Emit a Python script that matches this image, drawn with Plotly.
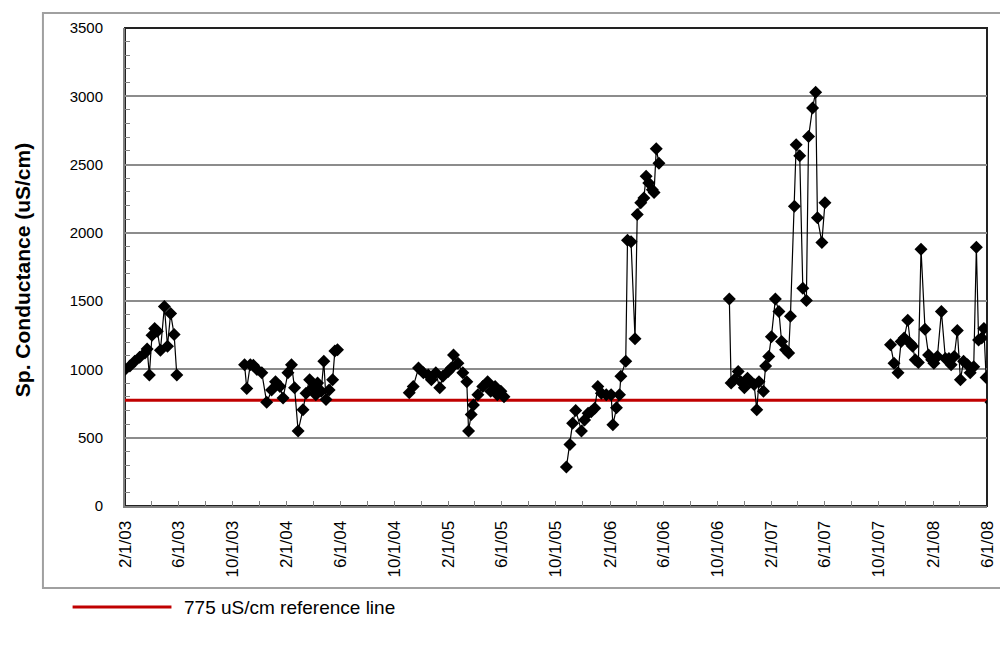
import plotly.graph_objects as go

# sampling periods (gaps between them are not connected)
d_2003 = ["2003-02-01", "2003-02-12", "2003-02-23", "2003-03-06", "2003-03-18", "2003-03-23",
          "2003-03-28", "2003-04-03", "2003-04-09", "2003-04-15", "2003-04-22", "2003-05-01",
          "2003-05-08", "2003-05-15", "2003-05-23", "2003-05-29"]
v_2003 = [1000, 1025, 1060, 1090, 1120, 1150, 960, 1250, 1300, 1280, 1140, 1460, 1170, 1410, 1255, 960]

d_2004 = ["2003-10-29", "2003-11-03", "2003-11-11", "2003-11-18", "2003-11-26", "2003-12-07",
          "2003-12-18", "2003-12-29", "2004-01-07", "2004-01-17", "2004-01-24", "2004-02-04",
          "2004-02-12", "2004-02-19", "2004-02-27", "2004-03-09", "2004-03-16", "2004-03-24",
          "2004-03-31", "2004-04-07", "2004-04-11", "2004-04-19", "2004-04-25", "2004-04-30",
          "2004-05-07", "2004-05-15", "2004-05-20", "2004-05-26"]
v_2004 = [1035, 860, 1035, 1030, 1000, 975, 760, 850, 910, 875, 790, 975, 1035, 865, 550, 705,
          825, 925, 865, 815, 900, 840, 1060, 780, 850, 925, 1135, 1145]

d_2005 = ["2004-11-04", "2004-11-13", "2004-11-25", "2004-12-06", "2004-12-17", "2004-12-24",
          "2005-01-03", "2005-01-12", "2005-01-19", "2005-01-31", "2005-02-07", "2005-02-12",
          "2005-02-22", "2005-03-05", "2005-03-14", "2005-03-18", "2005-03-24", "2005-03-29",
          "2005-04-08", "2005-04-19", "2005-04-30", "2005-05-07", "2005-05-17", "2005-05-22",
          "2005-05-30", "2005-06-06"]
v_2005 = [830, 875, 1010, 975, 960, 925, 975, 865, 950, 985, 1010, 1105, 1045, 975, 910, 550,
          670, 740, 815, 875, 910, 840, 875, 815, 840, 800]

d_2006 = ["2005-10-25", "2005-11-02", "2005-11-08", "2005-11-15", "2005-11-28", "2005-12-05",
          "2005-12-13", "2005-12-20", "2005-12-28", "2006-01-04", "2006-01-12", "2006-01-23",
          "2006-02-03", "2006-02-07", "2006-02-15", "2006-02-22", "2006-02-25", "2006-03-08",
          "2006-03-12", "2006-03-20", "2006-03-29", "2006-04-03", "2006-04-11", "2006-04-18",
          "2006-04-23", "2006-04-29", "2006-05-07", "2006-05-11", "2006-05-16", "2006-05-22"]
v_2006 = [285, 450, 605, 700, 550, 630, 680, 690, 715, 875, 825, 815, 815, 595, 720, 815, 950,
          1060, 1945, 1935, 1225, 2135, 2220, 2255, 2415, 2365, 2315, 2295, 2615, 2510]

d_2007 = ["2006-10-28", "2006-11-01", "2006-11-08", "2006-11-17", "2006-11-23", "2006-12-01",
          "2006-12-08", "2006-12-15", "2006-12-23", "2006-12-29", "2007-01-03", "2007-01-13",
          "2007-01-18", "2007-01-25", "2007-01-31", "2007-02-09", "2007-02-17", "2007-02-23",
          "2007-03-04", "2007-03-11", "2007-03-15", "2007-03-24", "2007-03-28", "2007-04-05",
          "2007-04-12", "2007-04-20", "2007-04-25", "2007-05-04", "2007-05-11", "2007-05-15",
          "2007-05-25", "2007-06-01"]
v_2007 = [1515, 900, 925, 985, 910, 865, 935, 910, 890, 705, 910, 840, 1025, 1095, 1240, 1515,
          1425, 1205, 1145, 1120, 1390, 2195, 2645, 2565, 1595, 1505, 2705, 2915, 3030, 2110,
          1930, 2220]

d_2008 = ["2007-10-27", "2007-11-04", "2007-11-13", "2007-11-20", "2007-11-27", "2007-12-05",
          "2007-12-11", "2007-12-16", "2007-12-22", "2007-12-29", "2008-01-04", "2008-01-13",
          "2008-01-21", "2008-01-28", "2008-02-02", "2008-02-10", "2008-02-19", "2008-02-28",
          "2008-03-07", "2008-03-12", "2008-03-19", "2008-03-26", "2008-04-02", "2008-04-09",
          "2008-04-18", "2008-04-24", "2008-05-02", "2008-05-08", "2008-05-13", "2008-05-20",
          "2008-05-25", "2008-05-30", "2008-06-10"]
v_2008 = [1180, 1045, 975, 1205, 1230, 1360, 1190, 1170, 1070, 1050, 1880, 1295, 1105, 1070,
          1045, 1095, 1425, 1080, 1080, 1035, 1095, 1285, 925, 1060, 1035, 975, 1020, 1895, 1215,
          1230, 1300, 940, 760]

ref_value = 775
x_start, x_end = "2003-02-01", "2008-06-01"

periods = [(d_2003, v_2003), (d_2004, v_2004), (d_2005, v_2005),
           (d_2006, v_2006), (d_2007, v_2007), (d_2008, v_2008)]
xs, ys = [], []
for d, v in periods:
    xs += d + [None]
    ys += v + [None]

FONT = "Liberation Sans, Arial, sans-serif"
NARROW = "Liberation Sans Narrow, Arial Narrow, Liberation Sans, sans-serif"

fig = go.Figure()
fig.add_trace(go.Scatter(x=[x_start, x_end], y=[ref_value, ref_value], mode="lines",
                         line=dict(color="#c00000", width=3), showlegend=False,
                         hoverinfo="skip"))
fig.add_trace(go.Scatter(x=xs, y=ys, mode="lines+markers", connectgaps=False,
                         line=dict(color="black", width=1.2),
                         marker=dict(symbol="diamond", size=10, color="black"),
                         showlegend=False))

fig.update_xaxes(range=[x_start, x_end], type="date", tick0=x_start, dtick="M4",
                 tickformat="%-m/%-d/%y", tickangle=-90, ticks="inside", ticklen=5,
                 tickcolor="#808080", showline=True, linecolor="#808080", linewidth=2,
                 showgrid=False, zeroline=False, ticklabelstandoff=6,
                 tickfont=dict(family=FONT, size=17, color="black"),
                 minor=dict(dtick="M2", tick0=x_start, ticks="inside", ticklen=5,
                            tickcolor="#808080", showgrid=False))
fig.update_yaxes(range=[0, 3500], dtick=500, ticks="", showline=True, linecolor="#808080",
                 linewidth=2, showgrid=True, gridcolor="#8c8c8c", gridwidth=1.5,
                 zeroline=False, ticklabelstandoff=17,
                 tickfont=dict(family=NARROW, size=15, color="black"),
                 minor=dict(dtick=100, ticks="inside", ticklen=5, tickcolor="#808080",
                            showgrid=False))

# plot-area frame, outer chart border and hand-drawn legend
fig.add_shape(type="rect", xref="paper", yref="paper", x0=0, x1=1, y0=0, y1=1,
              line=dict(color="#222222", width=2), layer="below")
fig.add_shape(type="rect", xref="paper", yref="paper", x0=-0.0952, x1=1.05, y0=-0.1715, y1=1.0314,
              line=dict(color="#a0a0a0", width=2), layer="below")
fig.add_shape(type="line", xref="paper", yref="paper", x0=-0.0608, x1=0.0539, y0=-0.2113, y1=-0.2113,
              line=dict(color="#c00000", width=3))
fig.add_annotation(text="775 uS/cm reference line", xref="paper", yref="paper",
                   x=0.0665, y=-0.2113, xanchor="left", yanchor="middle", showarrow=False,
                   font=dict(family=FONT, size=19, color="black"))
fig.add_annotation(text="<b>Sp. Conductance (uS/cm)</b>", xref="paper", yref="paper",
                   x=-0.1193, y=0.4937, textangle=-90, xanchor="center", yanchor="middle",
                   showarrow=False, font=dict(family=FONT, size=21, color="black"))

# page body keeps an 8px margin, so the figure is 8px smaller each way
fig.update_layout(width=1000, height=640, margin=dict(l=117, r=11, t=20, b=142),
                  paper_bgcolor="white", plot_bgcolor="white", showlegend=False)

fig.write_html("out.html")
